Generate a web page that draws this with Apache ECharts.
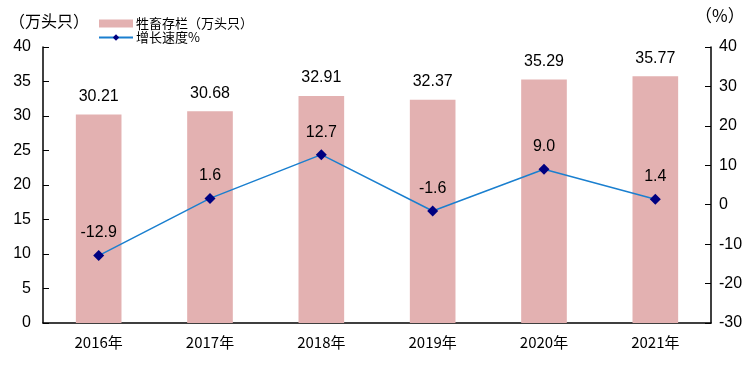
<!DOCTYPE html>
<html><head><meta charset="utf-8">
<script src="https://cdn.jsdelivr.net/npm/echarts@6/dist/echarts.min.js"></script>
<style>html,body{margin:0;padding:0;background:#fff}#c{width:752px;height:371px}</style>
</head><body><div id="c"></div>
<script>
const categories = ['2016年','2017年','2018年','2019年','2020年','2021年'];
const stockValues = [30.21, 30.68, 32.91, 32.37, 35.29, 35.77];
const growthValues = [-12.9, 1.6, 12.7, -1.6, 9.0, 1.4];
const growthLabels = ['-12.9','1.6','12.7','-1.6','9.0','1.4'];
const barName = '牲畜存栏（万头只）';
const lineName = '增长速度%';

const chart = echarts.init(document.getElementById('c'));
const numFont = 'Liberation Sans, Arial, sans-serif';
chart.setOption({
  animation: false,
  backgroundColor: '#fff',
  grid: {left: 43, right: 41, top: 47, bottom: 48},
  legend: {
    left: 93, top: 12, orient: 'vertical', itemGap: 1, itemWidth: 34, itemHeight: 8,
    textStyle: {fontFamily: 'Noto Sans CJK SC', fontSize: 13, color: '#000', padding:[0,0,0,-2]},
    data: [{name: barName, icon: 'rect'}, {name: lineName}]
  },
  xAxis: {
    type: 'category', data: categories,
    axisLine: {lineStyle: {color: '#000', width: 1.5}},
    axisTick: {inside: true, length: 8, lineStyle: {color: '#000'}},
    axisLabel: {color: '#000', fontFamily: 'Noto Sans CJK SC', fontSize: 15, margin: 12}
  },
  yAxis: [{
    type: 'value', min: 0, max: 40, interval: 5,
    name: '（万头只）', nameLocation: 'end', nameGap: 18,
    nameTextStyle: {fontFamily: 'Noto Sans CJK SC', fontSize: 16, color: '#000', align: 'left', padding: [0,0,0,-34]},
    axisLine: {show: true, lineStyle: {color: '#000', width: 1.5}},
    axisTick: {show: true, inside: true, length: 6, lineStyle: {color: '#000'}},
    axisLabel: {color: '#000', fontFamily: numFont, fontSize: 16, margin: 12},
    splitLine: {show: false}
  }, {
    type: 'value', min: -30, max: 40, interval: 10,
    name: '（%）', nameLocation: 'end', nameGap: 23,
    nameTextStyle: {fontFamily: 'Noto Sans CJK SC', fontSize: 17, color: '#000', align: 'left', padding: [0,0,0,-16]},
    axisLine: {show: true, lineStyle: {color: '#000', width: 1.5}},
    axisTick: {show: true, inside: true, length: 6, lineStyle: {color: '#000'}},
    axisLabel: {color: '#000', fontFamily: numFont, fontSize: 16, margin: 8},
    splitLine: {show: false}
  }],
  series: [{
    name: barName, type: 'bar', data: stockValues, barWidth: '41%', yAxisIndex: 0,
    itemStyle: {color: '#e3b1b1'},
    label: {show: true, position: 'top', distance: 10, color: '#000', fontFamily: numFont, fontSize: 16}
  }, {
    name: lineName, type: 'line', data: growthValues, yAxisIndex: 1,
    symbol: 'diamond', symbolSize: 11,
    lineStyle: {color: '#1a7fcf', width: 1.5},
    itemStyle: {color: '#000080'},
    label: {show: true, position: 'top', distance: 9, color: '#000', fontFamily: numFont, fontSize: 16,
      formatter: p => growthLabels[p.dataIndex]}
  }]
});
</script></body></html>
